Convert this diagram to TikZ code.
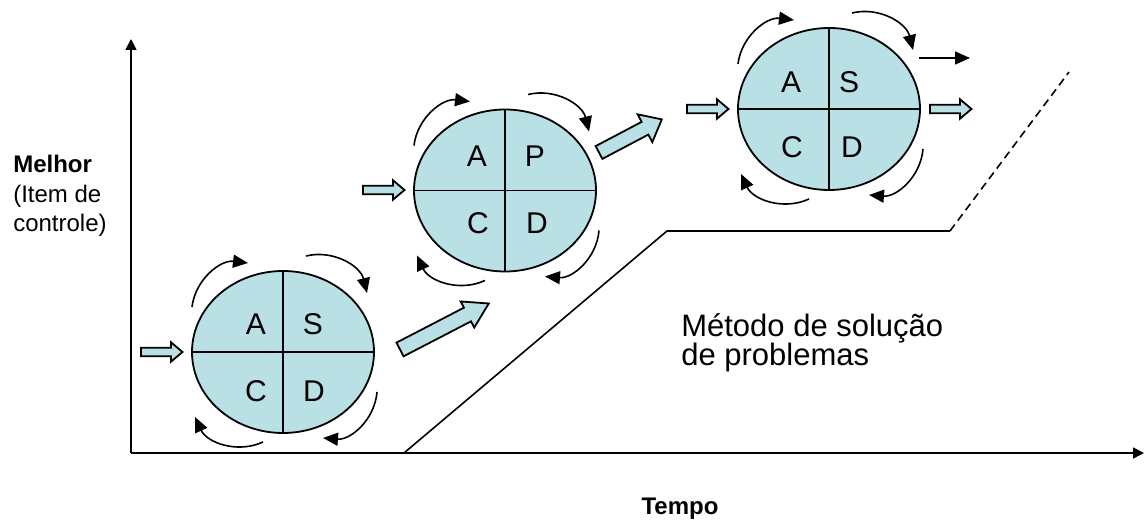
\documentclass[tikz,border=0pt]{standalone}
\usepackage{fontspec}
\setmainfont{Liberation Sans}
\usetikzlibrary{arrows.meta,shapes.geometric}
\definecolor{azul}{RGB}{185,224,228}
\tikzset{
  pdca/.style={ellipse,draw,fill=azul,line width=1.8pt,minimum width=182pt,
    minimum height=162pt,inner sep=0pt,outer sep=0pt},
  letra/.style={inner sep=0pt,font=\fontsize{30}{35}\selectfont},
  gira/.style={-{Triangle[length=15pt,width=13pt]},line width=1.6pt,bend left=45},
  seta/.style={-{Triangle[length=15pt,width=13pt]},line width=1.5pt},
  eixo/.style={-{Triangle[length=11pt,width=11pt]},line width=1.6pt},
  bloco/.style={draw,fill=azul,line width=1.8pt},
  rotulo/.style={inner sep=0pt,anchor=base west,font=\fontsize{24}{29}\selectfont}
}

\begin{document}
\begin{tikzpicture}[x=1pt,y=1pt,semithick]
\useasboundingbox (0,0) rectangle (1144,521);
% eixos
\coordinate (O) at (131,68);
\coordinate (Y) at (131,482);
\coordinate (X) at (1144,68);
\draw[eixo] (O)--(Y);
\draw[eixo] (O)--(X);
% linha do metodo
\coordinate (M1) at (404,68);
\coordinate (M2) at (667,290);
\coordinate (M3) at (950,290);
\coordinate (M4) at (1069,449);
\draw[line width=1.6pt] (M1)--(M2)--(M3);
\draw[line width=1.6pt,dash pattern=on 8pt off 5pt] (M3)--(M4);
% os tres ciclos
\node[pdca] (c1) at (283,169) {};
\node[pdca] (c2) at (505,330.5) {};
\node[pdca] (c3) at (829,412) {};
\draw[line width=1.5pt] (c1.north)--(c1.south) (c1.west)--(c1.east)
(c2.north)--(c2.south) (c2.west)--(c2.east)
(c3.north)--(c3.south) (c3.west)--(c3.east);
\node[letra] (c1a) at ([shift={(-27,28)}]c1.center) {A};
\node[letra] (c1s) at ([shift={(30,28)}]c1.center) {S};
\node[letra] (c1c) at ([shift={(-27,-39)}]c1.center) {C};
\node[letra] (c1d) at ([shift={(31,-39)}]c1.center) {D};
\node[letra] (c2a) at ([shift={(-28,34.5)}]c2.center) {A};
\node[letra] (c2p) at ([shift={(30,34.5)}]c2.center) {P};
\node[letra] (c2c) at ([shift={(-27,-32.5)}]c2.center) {C};
\node[letra] (c2d) at ([shift={(32,-32.5)}]c2.center) {D};
\node[letra] (c3a) at ([shift={(-38,26.5)}]c3.center) {A};
\node[letra] (c3s) at ([shift={(20,26.5)}]c3.center) {S};
\node[letra] (c3c) at ([shift={(-37,-38.5)}]c3.center) {C};
\node[letra] (c3d) at ([shift={(23,-38.5)}]c3.center) {D};
% setas curvas em volta de cada ciclo
\path[gira] ([shift={(-91,45)}]c1.center) edge ([shift={(-35,89)}]c1.center)
([shift={(23,96)}]c1.center) edge ([shift={(84,59)}]c1.center)
([shift={(94,-40)}]c1.center) edge ([shift={(40,-86)}]c1.center)
([shift={(-20,-90)}]c1.center) edge ([shift={(-88,-65)}]c1.center);
\path[gira] ([shift={(-91,45)}]c2.center) edge ([shift={(-35,89)}]c2.center)
([shift={(23,96)}]c2.center) edge ([shift={(84,59)}]c2.center)
([shift={(94,-40)}]c2.center) edge ([shift={(40,-86)}]c2.center)
([shift={(-20,-90)}]c2.center) edge ([shift={(-88,-65)}]c2.center);
\path[gira] ([shift={(-91,45)}]c3.center) edge ([shift={(-35,89)}]c3.center)
([shift={(23,96)}]c3.center) edge ([shift={(84,59)}]c3.center)
([shift={(94,-40)}]c3.center) edge ([shift={(40,-86)}]c3.center)
([shift={(-20,-90)}]c3.center) edge ([shift={(-88,-65)}]c3.center);
\coordinate (s1) at (919,463);
\coordinate (s2) at (970,463);
\draw[seta] (s1)--(s2);
% setas largas
\draw[bloco,shift={(141,169)}] (0,-4.2)--(30,-4.2)--(30,-9.7)--(41.5,0)--(30,9.7)--(30,4.2)--(0,4.2)--cycle;
\draw[bloco,shift={(363,331)}] (0,-4.2)--(30,-4.2)--(30,-9.7)--(41.5,0)--(30,9.7)--(30,4.2)--(0,4.2)--cycle;
\draw[bloco,shift={(687,412)}] (0,-4.2)--(30,-4.2)--(30,-9.7)--(41.5,0)--(30,9.7)--(30,4.2)--(0,4.2)--cycle;
\draw[bloco,shift={(930,412)}] (0,-4.2)--(30,-4.2)--(30,-9.7)--(41.5,0)--(30,9.7)--(30,4.2)--(0,4.2)--cycle;
\draw[bloco,shift={(400,171.5)},rotate=27.4] (0,-7.7)--(76,-7.7)--(76,-14.7)--(100,0)--(76,14.7)--(76,7.7)--(0,7.7)--cycle;
\draw[bloco,shift={(599,368.5)},rotate=27.8] (0,-7.2)--(52,-7.2)--(52,-15.7)--(71,0)--(52,15.7)--(52,7.2)--(0,7.2)--cycle;
% textos
\node[rotulo] (melhor) at (13,348) {\bfseries Melhor};
\node[rotulo] (item) at (13,318.5) {(Item de};
\node[rotulo] (controle) at (13,289.5) {controle)};
\node[rotulo,anchor=base] (tempo) at (680,6) {\bfseries Tempo};
\node[rotulo,font=\fontsize{31}{36}\selectfont] (metodo) at (681,184.3) {Método de solução};
\node[rotulo,font=\fontsize{31}{36}\selectfont] (problemas) at (681,155) {de problemas};
\end{tikzpicture}
\end{document}
